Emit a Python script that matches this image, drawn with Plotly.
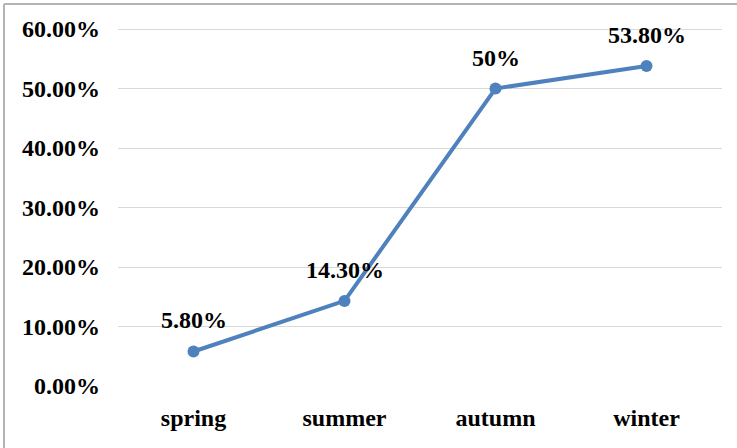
import plotly.graph_objects as go

seasons = ["spring", "summer", "autumn", "winter"]
rates = [0.058, 0.143, 0.50, 0.538]
rate_labels = ["5.80%", "14.30%", "50%", "53.80%"]
y_ticks = [0, 0.1, 0.2, 0.3, 0.4, 0.5, 0.6]

W, H = 737, 448
ML, MR, MT, MB = 118, 15, 28, 62
pw, ph = W - ML - MR, H - MT - MB

font_main = dict(family="Liberation Serif, Times New Roman, serif", size=24, color="black", weight="bold")

fig = go.Figure()
fig.add_trace(go.Scatter(
    x=seasons, y=rates, mode="lines+markers",
    line=dict(color="#4F81BD", width=4),
    marker=dict(color="#4F81BD", size=12),
    hoverinfo="skip", showlegend=False,
))
for s, v, t in zip(seasons, rates, rate_labels):
    fig.add_annotation(x=s, y=v, text=t, showarrow=False, yshift=31,
                       font=font_main, xanchor="center", yanchor="middle")

def px2x(px):
    return (px - ML) / pw

def px2y(py):
    return 1 - (py - MT) / ph

border = dict(color="#B4B4B4", width=2)
fig.add_shape(type="line", xref="paper", yref="paper",
              x0=px2x(4), x1=px2x(737), y0=px2y(4), y1=px2y(4), line=border)
fig.add_shape(type="line", xref="paper", yref="paper",
              x0=px2x(4), x1=px2x(4), y0=px2y(4), y1=px2y(448), line=border)

fig.update_layout(
    width=W, height=H,
    margin=dict(l=ML, r=MR, t=MT, b=MB, pad=0),
    paper_bgcolor="white", plot_bgcolor="white",
    font=font_main,
)
fig.update_xaxes(range=[-0.5, 3.5], showgrid=False, showline=False, zeroline=False,
                 tickfont=font_main, ticks="", ticklabelstandoff=15)
fig.update_yaxes(range=[0, 0.6017], tickvals=y_ticks, tickformat=".2%",
                 showgrid=True, gridcolor="#D9D9D9", gridwidth=1.3,
                 zeroline=False, showline=False, tickfont=font_main, ticks="",
                 ticklabelstandoff=17)

fig.write_html("out.html")
